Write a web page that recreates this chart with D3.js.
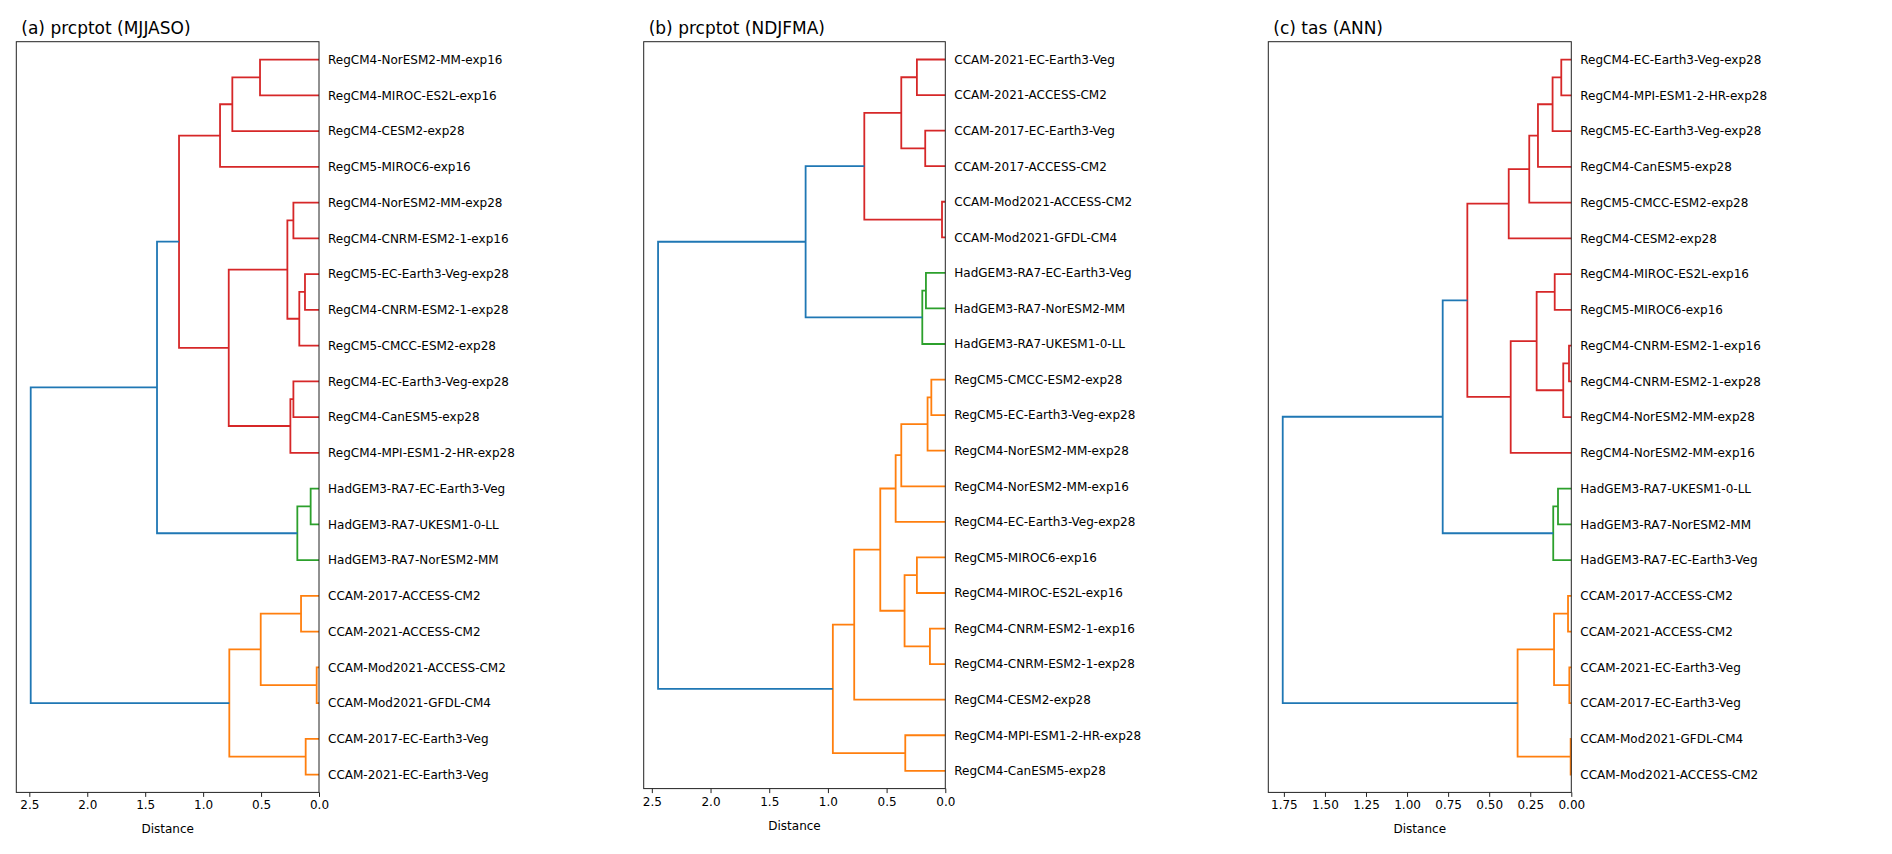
<!DOCTYPE html>
<html>
<head>
<meta charset="utf-8">
<script src="https://cdn.jsdelivr.net/npm/d3@7"></script>
<style>
  body { margin: 0; background: #fff; }
  text { font-family: "DejaVu Sans", sans-serif; fill: #000; }
</style>
</head>
<body>
<svg id="chart"></svg>
<script>
// leaf labels, listed top to bottom as they appear
const labelsA = [
    "RegCM4-NorESM2-MM-exp16", "RegCM4-MIROC-ES2L-exp16", "RegCM4-CESM2-exp28",
    "RegCM5-MIROC6-exp16", "RegCM4-NorESM2-MM-exp28", "RegCM4-CNRM-ESM2-1-exp16",
    "RegCM5-EC-Earth3-Veg-exp28", "RegCM4-CNRM-ESM2-1-exp28", "RegCM5-CMCC-ESM2-exp28",
    "RegCM4-EC-Earth3-Veg-exp28", "RegCM4-CanESM5-exp28", "RegCM4-MPI-ESM1-2-HR-exp28",
    "HadGEM3-RA7-EC-Earth3-Veg", "HadGEM3-RA7-UKESM1-0-LL", "HadGEM3-RA7-NorESM2-MM",
    "CCAM-2017-ACCESS-CM2", "CCAM-2021-ACCESS-CM2", "CCAM-Mod2021-ACCESS-CM2",
    "CCAM-Mod2021-GFDL-CM4", "CCAM-2017-EC-Earth3-Veg", "CCAM-2021-EC-Earth3-Veg"
];
const labelsB = [
    "CCAM-2021-EC-Earth3-Veg", "CCAM-2021-ACCESS-CM2", "CCAM-2017-EC-Earth3-Veg",
    "CCAM-2017-ACCESS-CM2", "CCAM-Mod2021-ACCESS-CM2", "CCAM-Mod2021-GFDL-CM4",
    "HadGEM3-RA7-EC-Earth3-Veg", "HadGEM3-RA7-NorESM2-MM", "HadGEM3-RA7-UKESM1-0-LL",
    "RegCM5-CMCC-ESM2-exp28", "RegCM5-EC-Earth3-Veg-exp28", "RegCM4-NorESM2-MM-exp28",
    "RegCM4-NorESM2-MM-exp16", "RegCM4-EC-Earth3-Veg-exp28", "RegCM5-MIROC6-exp16",
    "RegCM4-MIROC-ES2L-exp16", "RegCM4-CNRM-ESM2-1-exp16", "RegCM4-CNRM-ESM2-1-exp28",
    "RegCM4-CESM2-exp28", "RegCM4-MPI-ESM1-2-HR-exp28", "RegCM4-CanESM5-exp28"
];
const labelsC = [
    "RegCM4-EC-Earth3-Veg-exp28", "RegCM4-MPI-ESM1-2-HR-exp28", "RegCM5-EC-Earth3-Veg-exp28",
    "RegCM4-CanESM5-exp28", "RegCM5-CMCC-ESM2-exp28", "RegCM4-CESM2-exp28",
    "RegCM4-MIROC-ES2L-exp16", "RegCM5-MIROC6-exp16", "RegCM4-CNRM-ESM2-1-exp16",
    "RegCM4-CNRM-ESM2-1-exp28", "RegCM4-NorESM2-MM-exp28", "RegCM4-NorESM2-MM-exp16",
    "HadGEM3-RA7-UKESM1-0-LL", "HadGEM3-RA7-NorESM2-MM", "HadGEM3-RA7-EC-Earth3-Veg",
    "CCAM-2017-ACCESS-CM2", "CCAM-2021-ACCESS-CM2", "CCAM-2021-EC-Earth3-Veg",
    "CCAM-2017-EC-Earth3-Veg", "CCAM-Mod2021-GFDL-CM4", "CCAM-Mod2021-ACCESS-CM2"
];

// linkage rows [child1, child2, distance]; ids < 21 are leaves, 21+k is row k
const linksA = [
    [0, 1, 0.509], [21, 2, 0.748], [22, 3, 0.854], [4, 5, 0.221], [6, 7, 0.121],
    [25, 8, 0.170], [24, 26, 0.273], [9, 10, 0.221], [28, 11, 0.247], [27, 29, 0.779],
    [23, 30, 1.208], [12, 13, 0.072], [32, 14, 0.187], [31, 33, 1.398], [15, 16, 0.155],
    [17, 18, 0.020], [35, 36, 0.503], [19, 20, 0.115], [37, 38, 0.774], [34, 39, 2.488]
];
const linksB = [
    [0, 1, 0.242], [2, 3, 0.171], [21, 22, 0.375], [4, 5, 0.028], [23, 24, 0.690],
    [6, 7, 0.165], [26, 8, 0.196], [25, 27, 1.190], [9, 10, 0.119], [29, 11, 0.151],
    [30, 12, 0.375], [31, 13, 0.423], [14, 15, 0.242], [16, 17, 0.131], [33, 34, 0.347],
    [32, 35, 0.554], [36, 18, 0.776], [19, 20, 0.341], [37, 38, 0.958], [28, 39, 2.447]
];
const linksC = [
    [0, 1, 0.061], [21, 2, 0.114], [22, 3, 0.203], [23, 4, 0.256], [24, 5, 0.381],
    [6, 7, 0.101], [8, 9, 0.014], [27, 10, 0.049], [26, 28, 0.211], [29, 11, 0.369],
    [25, 30, 0.633], [12, 13, 0.081], [32, 14, 0.110], [31, 33, 0.783], [15, 16, 0.020],
    [17, 18, 0.012], [35, 36, 0.105], [19, 20, 0.004], [37, 38, 0.327], [34, 39, 1.757]
];

const titles = ["(a) prcptot (MJJASO)", "(b) prcptot (NDJFMA)", "(c) tas (ANN)"];
const thresholds = [1.3, 1.1, 0.7];
const ticksA = [0, 0.5, 1.0, 1.5, 2.0, 2.5];
const ticksB = [0, 0.5, 1.0, 1.5, 2.0, 2.5];
const ticksC = [0, 0.25, 0.5, 0.75, 1.0, 1.25, 1.5, 1.75];

const W = 1892, H = 854;
const aboveColor = "#1f77b4";
const clusterColors = ["#ff7f0e", "#2ca02c", "#d62728", "#9467bd", "#8c564b"];

const panels = [
    { labels: labelsA, links: linksA, ticks: ticksA, fmt: ".1f", left: 16.3, right: 319, top: 41.7, bottom: 792.4 },
    { labels: labelsB, links: linksB, ticks: ticksB, fmt: ".1f", left: 643.7, right: 945.3, top: 41.7, bottom: 788.6 },
    { labels: labelsC, links: linksC, ticks: ticksC, fmt: ".2f", left: 1268.3, right: 1571.3, top: 41.7, bottom: 792.4 }
];

let svg = d3.select("#chart").attr("width", W).attr("height", H);

function drawPanel(p, idx) {
    const n = p.labels.length;
    const maxH = d3.max(p.links, d => d[2]);
    const thr = thresholds[idx];

    const x = d3.scaleLinear().domain([maxH * 1.05, 0]).range([p.left, p.right]);
    const y = d3.scalePoint().domain(d3.range(n)).range([p.top, p.bottom]).padding(0.5);

    // node positions: leaves at their slot, merges at the middle of their children
    const pos = d3.range(n).map(i => y(i));
    const height = d3.range(n).map(() => 0);
    const parent = [];
    p.links.forEach((l, k) => {
        pos[n + k] = (pos[l[0]] + pos[l[1]]) / 2;
        height[n + k] = l[2];
        parent[l[0]] = n + k;
        parent[l[1]] = n + k;
    });

    // colour clusters below the threshold, first cluster from the bottom
    const leavesOf = id => id < n ? [id] : leavesOf(p.links[id - n][0]).concat(leavesOf(p.links[id - n][1]));
    const roots = [];
    p.links.forEach((l, k) => {
        const id = n + k;
        const par = parent[id];
        if (l[2] < thr && (par === undefined || height[par] >= thr)) roots.push(id);
    });
    roots.sort((a, b) => d3.max(leavesOf(b)) - d3.max(leavesOf(a)));
    const color = p.links.map(() => aboveColor);
    roots.forEach((r, ci) => {
        const mark = id => {
            if (id < n) return;
            color[id - n] = clusterColors[ci % clusterColors.length];
            mark(p.links[id - n][0]);
            mark(p.links[id - n][1]);
        };
        mark(r);
    });

    const g = svg.append("g");

    const line = d3.line().x(d => x(d[0])).y(d => d[1]);
    g.selectAll("path.link")
        .data(p.links)
        .join("path")
        .attr("class", "link")
        .attr("fill", "none")
        .attr("stroke", (d, k) => color[k])
        .attr("stroke-width", 1.8)
        .attr("d", d => line([
            [height[d[0]], pos[d[0]]],
            [d[2], pos[d[0]]],
            [d[2], pos[d[1]]],
            [height[d[1]], pos[d[1]]]
        ]));

    // frame
    g.append("rect")
        .attr("x", p.left).attr("y", p.top)
        .attr("width", p.right - p.left).attr("height", p.bottom - p.top)
        .attr("fill", "none").attr("stroke", "#222").attr("stroke-width", 1);

    const xAxis = g.append("g")
        .attr("transform", `translate(0,${p.bottom})`)
        .call(d3.axisBottom(x).tickValues(p.ticks).tickFormat(d3.format(p.fmt)).tickSize(4.5).tickPadding(4));
    xAxis.select(".domain").remove();
    xAxis.selectAll("line").attr("stroke", "#222");
    xAxis.selectAll("text").style("font-size", "12px").attr("font-family", null);

    const yAxis = g.append("g")
        .attr("transform", `translate(${p.right},0)`)
        .call(d3.axisRight(y).tickFormat(i => p.labels[i]).tickSize(0).tickPadding(9));
    yAxis.select(".domain").remove();
    yAxis.selectAll("text").style("font-size", "12px").attr("font-family", null);

    g.append("text")
        .attr("x", (p.left + p.right) / 2)
        .attr("y", p.bottom + 41)
        .attr("text-anchor", "middle")
        .style("font-size", "12px")
        .text("Distance");

    g.append("text")
        .attr("x", p.left + 5)
        .attr("y", p.top - 7.5)
        .style("font-size", "17px")
        .text(titles[idx]);
}

panels.forEach(drawPanel);
</script>
</body>
</html>
